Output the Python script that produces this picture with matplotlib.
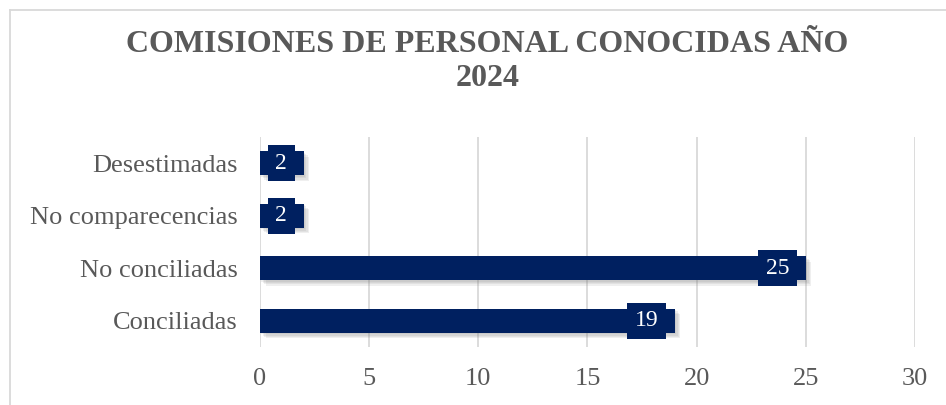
import matplotlib.pyplot as plt
import matplotlib.patheffects as pe
from matplotlib.lines import Line2D

# datos del grafico
categorias = ['Conciliadas', 'No conciliadas', 'No comparecencias', 'Desestimadas']
valores = [19, 25, 2, 2]
titulo = 'COMISIONES DE PERSONAL CONOCIDAS AÑO\n2024'
ticks_x = [0, 5, 10, 15, 20, 25, 30]

azul = '#002060'
gris_texto = '#595959'
gris_linea = '#D9D9D9'

plt.rcParams['font.family'] = ['Liberation Serif', 'DejaVu Serif']

fig = plt.figure(figsize=(9.46, 4.05), dpi=100)
ax = fig.add_axes([0.2748, 0.1432, 0.6924, 0.5185])

ypos = list(range(len(categorias)))
bars = ax.barh(ypos, valores, height=0.46, color=azul, zorder=3)
# sombra difusa de las barras (varias capas)
sombra = [pe.SimplePatchShadow(offset=(d, -d), shadow_rgbFace='#808080', alpha=0.12)
          for d in (1, 2, 3, 4)]
for b in bars:
    b.set_path_effects(sombra + [pe.Normal()])

# etiquetas de datos dentro del extremo de la barra
for y, v in zip(ypos, valores):
    ax.annotate(str(v), xy=(v, y), xytext=(-12, 0), textcoords='offset points',
                ha='right', va='center', color='white', fontsize=17, zorder=5,
                bbox=dict(boxstyle='square,pad=0.32', fc=azul, ec='none'))

ax.set_xlim(0, 30)
ax.set_ylim(-0.5, 3.5)
ax.set_xticks(ticks_x)
ax.set_yticks(ypos)
ax.set_yticklabels(categorias)
ax.tick_params(axis='both', length=0, labelsize=19, labelcolor=gris_texto)
ax.tick_params(axis='x', pad=15)
ax.tick_params(axis='y', pad=16)
ax.grid(axis='x', color=gris_linea, linewidth=1.3, zorder=0)
for s in ax.spines.values():
    s.set_visible(False)

fig.text(0.515, 0.848, titulo, ha='center', va='center', fontsize=23, fontweight='bold',
         color=gris_texto, linespacing=1.2)

# borde del area del grafico
fig.add_artist(Line2D([10 / 946, 10 / 946], [0, 1 - 10 / 405], transform=fig.transFigure,
                      color=gris_linea, linewidth=1.3))
fig.add_artist(Line2D([10 / 946, 1], [1 - 10 / 405, 1 - 10 / 405], transform=fig.transFigure,
                      color=gris_linea, linewidth=1.3))

fig.savefig('out.png', dpi=100)
